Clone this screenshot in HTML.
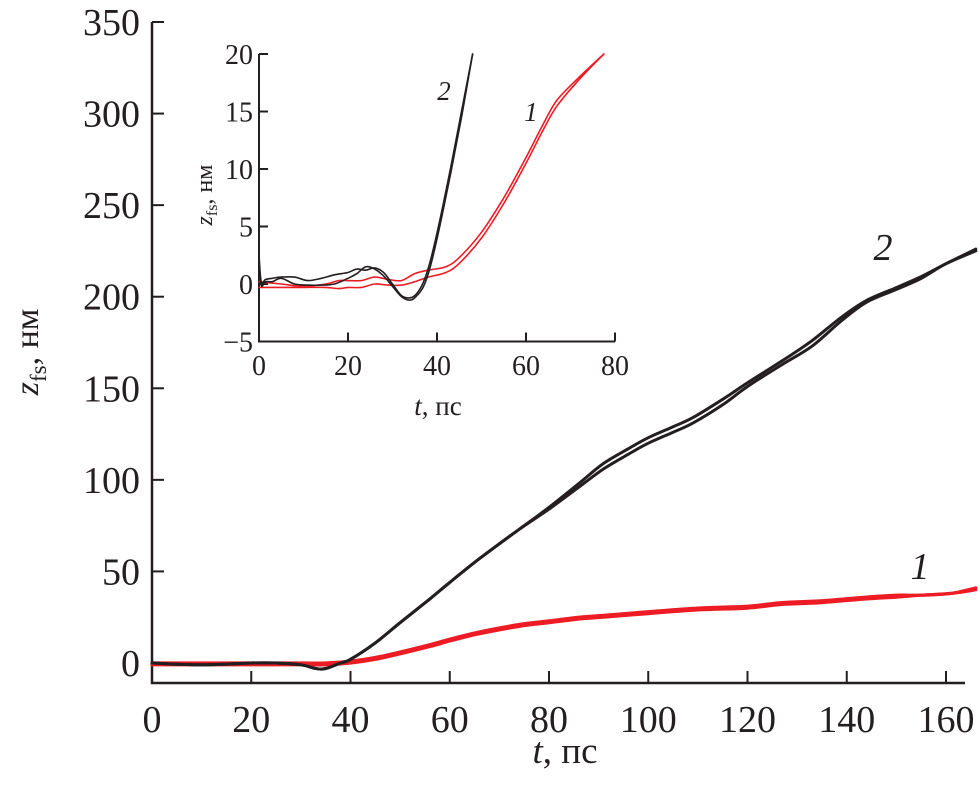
<!DOCTYPE html>
<html><head><meta charset="utf-8"><style>
html,body{margin:0;padding:0;background:#fff}
svg{display:block}
text{font-family:"Liberation Serif","DejaVu Serif",serif;fill:#231f20}
</style></head><body>
<svg id="chart" width="980" height="803" viewBox="0 0 980 803" xmlns="http://www.w3.org/2000/svg">
<g id="main"></g>
<g id="inset"></g>
</svg>
<script>
// main chart data
const mainXTicks=[0,20,40,60,80,100,120,140,160];
const mainYTicks=[0,50,100,150,200,250,300,350];
const mainT=[0,10,20,25,30,33,35,38,40,45,50,56,60,66,74,80,86,91,96,100,105,109,115,120,127,133,139,144,150,155,160,166];
const main2a=[0,-1,0,0,-1,-3,-3,0,2,11,22,35,44,57,73,85,98,109,117,123,129,134,144,153,165,176,189,198,205,211,218,226];
const main2b=[0,-1,0,0,-1,-3,-3,0,2,11,22,35,44,57,73,84,96,106,114,120,126,131,141,151,163,173,187,197,204,210,218,225];
const main1T=[0,20,30,35,40,45,50,56,60,66,74,80,86,91,100,110,120,127,135,144,150,155,161,166];
const main1a=[0,0,0,0,1,3,6,10,13,17,21,23,25,26,28,30,31,33,34,36,37,37,38,41];
const main1b=[-1,-1,-1,-1,0,2,5,9,12,16,20,22,24,25,27,29,30,32,33,35,36,37,38,40];
// inset data
const insXTicks=[0,20,40,60,80];
const insYTicks=[-5,0,5,10,15,20];
const ins2T=[0,0.5,1.5,3,5,8,11,14,17,20,22,24,26,28,30,32,34,35.5,37,38.5,40.5,43,45.5,48];
const ins2a=[2.5,0.2,0.4,0.5,0.6,0.6,0.3,0.5,0.8,1.0,1.3,1.2,1.4,1.0,0.0,-1.0,-1.2,-0.8,0.2,2.0,5.3,10,15,20];
const ins2b=[2.0,-0.1,0.2,0.2,0.5,0.0,-0.1,-0.1,0.0,0.5,0.9,1.5,1.3,0.7,-0.2,-1.1,-1.4,-1.0,-0.2,1.5,4.8,9.5,14.5,20];
const ins1T=[0,5,10,15,18,20,23,26,29,32,35,38,42,45,50,55,60,64,67,72,77.5];
const ins1a=[0.2,0.0,-0.2,0.0,0.3,0.3,0.3,0.6,0.4,0.3,0.9,1.2,1.5,2.3,4.5,7.5,11,14,16,18,20];
const ins1b=[-0.3,-0.3,-0.3,-0.3,-0.4,-0.3,-0.3,0.0,-0.1,-0.1,0.2,0.6,1.0,1.8,4.0,7.0,10.5,13.5,15.5,17.8,20];

const NS="http://www.w3.org/2000/svg";
function mk(parent,tag,attrs,txt){const e=document.createElementNS(NS,tag);for(const k in attrs)e.setAttribute(k,attrs[k]);if(txt!==undefined)e.textContent=txt;parent.appendChild(e);return e;}

const mx=t=>152+t*(946-152)/160;
const my=z=>663-z*(663-22)/350;
const M=document.getElementById('main');
let ax=mk(M,'path',{d:`M152,22 V683 H965`,fill:'none',stroke:'#231f20','stroke-width':2.5});


mainXTicks.forEach(v=>{
 let l=mk(M,'line',{x1:mx(v),x2:mx(v),y1:683,y2:671,stroke:'#231f20','stroke-width':2});
 
 
 let t=mk(M,'text',{x:mx(v),y:732,'text-anchor':'middle','font-size':38},String(v));
 
 
});
mainYTicks.forEach(v=>{
 let l=mk(M,'line',{x1:152,x2:164,y1:my(v),y2:my(v),stroke:'#231f20','stroke-width':2});
 
 
 let t=mk(M,'text',{x:140,y:my(v)+13,'text-anchor':'end','font-size':38},String(v));
 
 
});
let xl=mk(M,'text',{x:565,y:763,'text-anchor':'middle','font-size':37});
xl.innerHTML='<tspan font-style="italic">t</tspan>, пс';


let yl=mk(M,'text',{x:0,y:0,'text-anchor':'middle','font-size':34,transform:'translate(38,352) rotate(-90)'});
yl.innerHTML='<tspan font-style="italic">z</tspan><tspan font-size="23" dy="8">fs</tspan><tspan dy="-8">, нм</tspan>';



function line(parent,T,Z,fx,fy,color,w,name){
 const P=T.map((t,i)=>[fx(t),fy(Z[i])]);
 let d='M'+P[0][0].toFixed(1)+','+P[0][1].toFixed(1);
 for(let i=0;i<P.length-1;i++){
  const p0=P[Math.max(0,i-1)],p1=P[i],p2=P[i+1],p3=P[Math.min(P.length-1,i+2)];
  const c1=[p1[0]+(p2[0]-p0[0])/6,p1[1]+(p2[1]-p0[1])/6];
  const c2=[p2[0]-(p3[0]-p1[0])/6,p2[1]-(p3[1]-p1[1])/6];
  d+=` C${c1[0].toFixed(1)},${c1[1].toFixed(1)} ${c2[0].toFixed(1)},${c2[1].toFixed(1)} ${p2[0].toFixed(1)},${p2[1].toFixed(1)}`;
 }
 const p=mk(parent,'path',{d:d,fill:'none',stroke:color,'stroke-width':w,'stroke-linejoin':'round','stroke-linecap':'round'});
 
 
}
line(M,main1T,main1a,mx,my,'#ed1c24',3.2,'series-1-line-a');
line(M,main1T,main1b,mx,my,'#ed1c24',3.2,'series-1-line-b');
line(M,mainT,main2a,mx,my,'#231f20',3,'series-2-line-a');
line(M,mainT,main2b,mx,my,'#231f20',3,'series-2-line-b');
let l2=mk(M,'text',{x:883,y:260,'font-size':38,'font-style':'italic','text-anchor':'middle'},'2');


let l1=mk(M,'text',{x:920,y:579,'font-size':38,'font-style':'italic','text-anchor':'middle'},'1');



// inset
const ix=t=>259+t*(615-259)/80;
const iy=z=>284-z*(284-54)/20;
const I=document.getElementById('inset');
let iax=mk(I,'path',{d:`M${ix(0)},${iy(20)} H${ix(0)+8} M${ix(0)},${iy(20)} V${iy(-5)} H${ix(80)}`,fill:'none',stroke:'#231f20','stroke-width':2});


insXTicks.forEach(v=>{
 let l=mk(I,'line',{x1:ix(v),x2:ix(v),y1:iy(-5),y2:iy(-5)-9,stroke:'#231f20','stroke-width':2});
 
 
 let t=mk(I,'text',{x:ix(v),y:375,'text-anchor':'middle','font-size':28},String(v));
 
 
});
insYTicks.forEach(v=>{
 let l=mk(I,'line',{x1:ix(0),x2:ix(0)+9,y1:iy(v),y2:iy(v),stroke:'#231f20','stroke-width':2});
 
 
 let t=mk(I,'text',{x:253,y:iy(v)+10,'text-anchor':'end','font-size':28},v<0?'\u2212'+(-v):String(v));
 
 
});
let ixl=mk(I,'text',{x:438,y:415,'text-anchor':'middle','font-size':27});
ixl.innerHTML='<tspan font-style="italic">t</tspan>, пс';


let iyl=mk(I,'text',{x:0,y:0,'text-anchor':'middle','font-size':24,transform:'translate(212,195) rotate(-90)'});
iyl.innerHTML='<tspan font-style="italic">z</tspan><tspan font-size="16" dy="5">fs</tspan><tspan dy="-5">, нм</tspan>';


line(I,ins1T,ins1a,ix,iy,'#ed1c24',1.6,'inset-series-1-line-a');
line(I,ins1T,ins1b,ix,iy,'#ed1c24',1.6,'inset-series-1-line-b');
line(I,ins2T,ins2a,ix,iy,'#231f20',1.6,'inset-series-2-line-a');
line(I,ins2T,ins2b,ix,iy,'#231f20',1.6,'inset-series-2-line-b');
let il2=mk(I,'text',{x:444,y:100,'font-size':27,'font-style':'italic','text-anchor':'middle'},'2');


let il1=mk(I,'text',{x:531,y:121,'font-size':27,'font-style':'italic','text-anchor':'middle'},'1');


</script>
</body></html>
